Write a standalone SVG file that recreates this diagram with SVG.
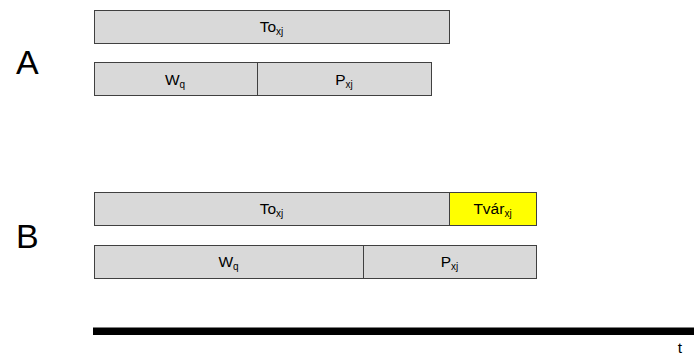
<svg xmlns="http://www.w3.org/2000/svg" width="694" height="358" viewBox="0 0 694 358">
  <style>
    .bar { fill: #d9d9d9; stroke: #404040; stroke-width: 1; }
    .hl { fill: #ffff00; }
    .lbl { font-family: "Liberation Sans", Arial, sans-serif; font-size: 15.5px; fill: #000; text-anchor: middle; }
    .sub { font-size: 10px; }
    .case { font-family: "Liberation Sans", Arial, sans-serif; font-size: 34px; fill: #000; }
  </style>
  <rect width="694" height="358" fill="#ffffff"/>

  <!-- Case A -->
  <text class="case" x="16" y="74">A</text>
  <g id="a-to">
    <rect class="bar" x="94.5" y="10.5" width="355" height="33"/>
    <text class="lbl" x="271.5" y="32">To<tspan class="sub" dy="3">xj</tspan></text>
  </g>
  <g id="a-wq">
    <rect class="bar" x="94.5" y="62.5" width="163" height="33"/>
    <text class="lbl" x="175" y="85">W<tspan class="sub" dy="3">q</tspan></text>
  </g>
  <g id="a-pxj">
    <rect class="bar" x="257.5" y="62.5" width="174" height="33"/>
    <text class="lbl" x="344" y="85">P<tspan class="sub" dy="3">xj</tspan></text>
  </g>

  <!-- Case B -->
  <text class="case" x="16" y="248">B</text>
  <g id="b-to">
    <rect class="bar" x="94.5" y="192.5" width="355" height="33"/>
    <text class="lbl" x="271.5" y="214">To<tspan class="sub" dy="3">xj</tspan></text>
  </g>
  <g id="b-tvar">
    <rect class="bar hl" x="449.5" y="192.5" width="87" height="33"/>
    <text class="lbl" x="492.5" y="214">Tvár<tspan class="sub" dy="3">xj</tspan></text>
  </g>
  <g id="b-wq">
    <rect class="bar" x="94.5" y="245.5" width="269" height="33"/>
    <text class="lbl" x="228.5" y="267">W<tspan class="sub" dy="3">q</tspan></text>
  </g>
  <g id="b-pxj">
    <rect class="bar" x="363.5" y="245.5" width="173" height="33"/>
    <text class="lbl" x="449.5" y="267">P<tspan class="sub" dy="3">xj</tspan></text>
  </g>

  <!-- Time axis -->
  <g id="connectors">
    <rect x="93" y="327.5" width="601" height="7.5" fill="#000"/>
  </g>
  <text class="lbl" x="680" y="353">t</text>
</svg>
